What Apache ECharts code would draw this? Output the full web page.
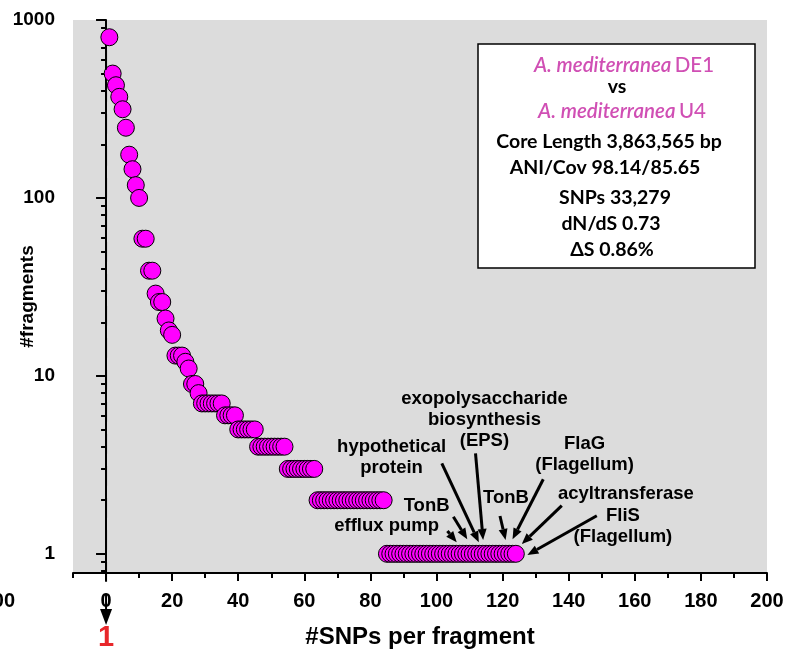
<!DOCTYPE html>
<html>
<head>
<meta charset="utf-8">
<script src="https://cdn.jsdelivr.net/npm/echarts@6/dist/echarts.min.js"></script>
<style>
  html, body { margin: 0; padding: 0; background: #ffffff; }
  #chart { width: 785px; height: 655px; }
</style>
</head>
<body>
<div id="chart"></div>
<script>
// SNPs per fragment (x) and number of fragments with that many SNPs (y)
const snpsPerFragment = [
  1, 2, 3, 4, 5, 6, 7, 8, 9, 10,
  11, 12, 13, 14, 15, 16, 17, 18, 19, 20,
  21, 22, 23, 24, 25, 26, 27, 28, 29, 30,
  31, 32, 33, 34, 35, 36, 37, 38, 39, 40,
  41, 42, 43, 44, 45, 46, 47, 48, 49, 50,
  51, 52, 53, 54, 55, 56, 57, 58, 59, 60,
  61, 62, 63, 64, 65, 66, 67, 68, 69, 70,
  71, 72, 73, 74, 75, 76, 77, 78, 79, 80,
  81, 82, 83, 84, 85, 86, 87, 88, 89, 90,
  91, 92, 93, 94, 95, 96, 97, 98, 99, 100,
  101, 102, 103, 104, 105, 106, 107, 108, 109, 110,
  111, 112, 113, 114, 115, 116, 117, 118, 119, 120,
  121, 122, 123, 124
];
const fragmentCounts = [
  800, 500, 430, 370, 315, 248, 175, 145, 118, 100,
  59, 59, 39, 39, 29, 26, 26, 21, 18, 17,
  13, 13, 13, 12, 11, 9, 9, 8, 7, 7,
  7, 7, 7, 7, 7, 6, 6, 6, 6, 5,
  5, 5, 5, 5, 5, 4, 4, 4, 4, 4,
  4, 4, 4, 4, 3, 3, 3, 3, 3, 3,
  3, 3, 3, 2, 2, 2, 2, 2, 2, 2,
  2, 2, 2, 2, 2, 2, 2, 2, 2, 2,
  2, 2, 2, 2, 1, 1, 1, 1, 1, 1,
  1, 1, 1, 1, 1, 1, 1, 1, 1, 1,
  1, 1, 1, 1, 1, 1, 1, 1, 1, 1,
  1, 1, 1, 1, 1, 1, 1, 1, 1, 1,
  1, 1, 1, 1
];

// Axis ticks
const xMajorTicks = [0, 20, 40, 60, 80, 100, 120, 140, 160, 180, 200];
const xMinorTicks = [-10, 10, 30, 50, 70, 90, 110, 130, 150, 170, 190];
const yMajorTicks = [1, 10, 100, 1000];
const yMinorTicks = [0.8, 0.9, 2, 3, 4, 5, 6, 7, 8, 9, 20, 30, 40, 50, 60, 70, 80, 90,
  200, 300, 400, 500, 600, 700, 800, 900];

// Gene annotations: label anchor (data coords) and arrows from/to (data coords)
const geneLabels = [
  { text: 'exopolysaccharide\nbiosynthesis\n(EPS)', at: [114.5, 5.65] },
  { text: 'hypothetical\nprotein', at: [86.4, 3.47] },
  { text: 'FlaG\n(Flagellum)', at: [144.8, 3.62] },
  { text: 'TonB', at: [121.0, 2.05] },
  { text: 'TonB', at: [97.0, 1.857] },
  { text: 'efflux pump', at: [84.9, 1.433] },
  { text: 'acyltransferase', at: [157.3, 2.16] },
  { text: 'FliS\n(Flagellum)', at: [156.4, 1.43] }
];
const geneArrows = [
  { from: [103.3, 1.343], to: [106.1, 1.16] },
  { from: [105.1, 1.616], to: [109.3, 1.206] },
  { from: [101.6, 3.227], to: [112.8, 1.16] },
  { from: [111.8, 3.67], to: [114.1, 1.196] },
  { from: [119.2, 1.631], to: [120.9, 1.196] },
  { from: [132.3, 2.624], to: [123.0, 1.206] },
  { from: [137.9, 1.864], to: [125.8, 1.135] },
  { from: [148.5, 1.637], to: [127.5, 0.985] }
];

// Summary box lines
const summaryLines = [
  { rich: '{i|A. mediterranea} {n|DE1}', cx: 624, cy: 65 },
  { plain: 'vs', cx: 617, cy: 87 },
  { rich: '{i|A. mediterranea} {n|U4}', cx: 622, cy: 111 },
  { plain: 'Core Length 3,863,565 bp', cx: 609, cy: 142 },
  { plain: 'ANI/Cov 98.14/85.65', cx: 605, cy: 168 },
  { plain: 'SNPs 33,279', cx: 615, cy: 198 },
  { plain: 'dN/dS 0.73', cx: 611, cy: 224 },
  { plain: '\u0394S 0.86%', cx: 612, cy: 250 }
];

const yMin = 0.78, yMax = 1000;
const sansBold = "'Liberation Sans', Arial, sans-serif";
const boxFont = "Lato, 'Open Sans', sans-serif";

const chart = echarts.init(document.getElementById('chart'), null, { renderer: 'canvas' });

const points = snpsPerFragment.map((x, i) => [x, fragmentCounts[i]]);

chart.setOption({
  animation: false,
  backgroundColor: '#ffffff',
  grid: {
    left: 73, right: 18, top: 20, bottom: 82,
    outerBoundsMode: 'none', containLabel: false,
    show: true, backgroundColor: '#dcdcdc', borderWidth: 0
  },
  xAxis: [
    {
      type: 'value', min: -10, max: 200,
      axisLine: { show: true, lineStyle: { color: '#000', width: 2 } },
      axisTick: { show: true, customValues: xMajorTicks, length: 8, lineStyle: { color: '#000', width: 2 } },
      axisLabel: {
        customValues: xMajorTicks, margin: 18, color: '#000',
        fontFamily: sansBold, fontWeight: 'bold', fontSize: 20,
        formatter: v => String(v)
      },
      splitLine: { show: false },
      name: '#SNPs per fragment', nameLocation: 'middle', nameGap: 52, nameMoveOverlap: false,
      nameTextStyle: { fontFamily: sansBold, fontWeight: 'bold', fontSize: 24, color: '#000' }
    },
    {
      type: 'value', min: -10, max: 200, position: 'bottom', gridIndex: 0,
      axisLine: { show: false },
      axisTick: { show: true, customValues: xMinorTicks, length: 5, lineStyle: { color: '#000', width: 2 } },
      axisLabel: { show: false },
      splitLine: { show: false }
    }
  ],
  yAxis: [
    {
      type: 'log', logBase: 10, min: yMin, max: yMax,
      axisLine: { show: true, lineStyle: { color: '#000', width: 2 } },
      axisTick: { show: true, customValues: yMajorTicks, length: 10, lineStyle: { color: '#000', width: 2 } },
      axisLabel: {
        customValues: yMajorTicks, margin: 18, color: '#000',
        fontFamily: sansBold, fontWeight: 'bold', fontSize: 19,
        formatter: v => String(Math.round(v))
      },
      splitLine: { show: false },
      name: '#fragments', nameLocation: 'middle', nameGap: 36, nameMoveOverlap: false,
      nameTextStyle: { fontFamily: sansBold, fontWeight: 'bold', fontSize: 19, color: '#000' }
    },
    {
      type: 'log', logBase: 10, min: yMin, max: yMax, position: 'left', gridIndex: 0,
      axisLine: { show: false },
      axisTick: { show: true, customValues: yMinorTicks, length: 5, lineStyle: { color: '#000', width: 2 } },
      axisLabel: { show: false },
      splitLine: { show: false }
    }
  ],
  series: [
    {
      type: 'scatter',
      xAxisIndex: 0, yAxisIndex: 0,
      data: points,
      symbol: 'circle',
      symbolSize: 17,
      itemStyle: { color: '#ff00ff', borderColor: '#000', borderWidth: 1, opacity: 1 },
      z: 3
    }
  ]
});

// Annotation layer placed through the chart's own coordinate conversion
function px(pt) {
  return chart.convertToPixel({ xAxisIndex: 0, yAxisIndex: 0 }, pt);
}

const graphics = [];

// Dashed reference line at x = 0 running through the axis to the arrow head
const lineTop = px([0, 680]);
const axisBottom = px([0, yMin]);
const headTop = axisBottom[1] + 36;
const headTip = axisBottom[1] + 52;
graphics.push({
  type: 'line', z: 5,
  shape: { x1: lineTop[0], y1: lineTop[1], x2: lineTop[0], y2: headTop + 1 },
  style: { stroke: '#000', lineWidth: 2, lineDash: [20, 12] }
});
graphics.push({
  type: 'polygon', z: 5,
  shape: { points: [[lineTop[0] - 6, headTop], [lineTop[0] + 6, headTop], [lineTop[0], headTip]] },
  style: { fill: '#000' }
});
graphics.push({
  type: 'text', z: 5,
  style: {
    text: '1', x: lineTop[0], y: headTip + 13, align: 'center', verticalAlign: 'middle',
    fill: '#e8262a', font: "bold 29px " + sansBold
  }
});

// Gene labels
geneLabels.forEach(g => {
  const p = px(g.at);
  graphics.push({
    type: 'text', z: 6,
    style: {
      text: g.text, x: p[0], y: p[1], align: 'center', verticalAlign: 'middle',
      fill: '#000', font: "bold 18.5px " + sansBold, lineHeight: 21
    }
  });
});

// Gene arrows
geneArrows.forEach(a => {
  const p0 = px(a.from), p1 = px(a.to);
  const dx = p1[0] - p0[0], dy = p1[1] - p0[1];
  const len = Math.sqrt(dx * dx + dy * dy);
  const ux = dx / len, uy = dy / len;
  const headLen = 11, headHalf = 4.5;
  const bx = p1[0] - ux * headLen, by = p1[1] - uy * headLen;
  graphics.push({
    type: 'line', z: 6,
    shape: { x1: p0[0], y1: p0[1], x2: bx, y2: by },
    style: { stroke: '#000', lineWidth: 3 }
  });
  graphics.push({
    type: 'polygon', z: 6,
    shape: { points: [[p1[0], p1[1]], [bx - uy * headHalf, by + ux * headHalf], [bx + uy * headHalf, by - ux * headHalf]] },
    style: { fill: '#000' }
  });
});

// Summary box
graphics.push({
  type: 'rect', z: 7,
  shape: { x: 478, y: 44, width: 277, height: 224 },
  style: { fill: '#ffffff', stroke: '#000', lineWidth: 1.5 }
});
summaryLines.forEach(l => {
  if (l.rich) {
    graphics.push({
      type: 'text', z: 8,
      style: {
        text: l.rich, x: l.cx, y: l.cy, align: 'center', verticalAlign: 'middle',
        rich: {
          i: { fontFamily: boxFont, fontStyle: 'italic', fontWeight: 600, fontSize: 20.5, fill: '#d04fb4' },
          n: { fontFamily: boxFont, fontWeight: 500, fontSize: 20.5, fill: '#d04fb4' }
        }
      }
    });
  } else {
    graphics.push({
      type: 'text', z: 8,
      style: {
        text: l.plain, x: l.cx, y: l.cy, align: 'center', verticalAlign: 'middle',
        fill: '#000', font: "bold 19.5px " + boxFont
      }
    });
  }
});

// Clipped neighbouring tick label at the far left
graphics.push({
  type: 'text', z: 5,
  style: {
    text: '200', x: 15, y: axisBottom[1] + 28, align: 'right', verticalAlign: 'middle',
    fill: '#000', font: "bold 20px " + sansBold
  }
});

chart.setOption({ graphic: graphics });
</script>
</body>
</html>
